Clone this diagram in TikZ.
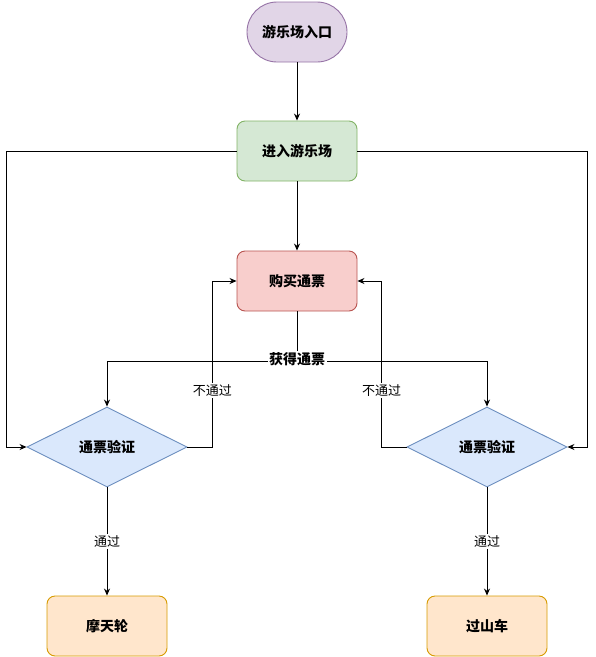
\documentclass[tikz,border=0pt]{standalone}
\usepackage{fontspec}
\setmainfont{Noto Sans CJK SC}
\usepackage{tikz}
\usetikzlibrary{
    arrows.meta,
    positioning,
    shapes.geometric
}
\usepackage{xcolor}
\definecolor{startfill}{HTML}{E1D5E7}
\definecolor{startline}{HTML}{9673A6}
\definecolor{greenfill}{HTML}{D5E8D4}
\definecolor{greenline}{HTML}{82B366}
\definecolor{redfill}{HTML}{F8CECC}
\definecolor{redline}{HTML}{B85450}
\definecolor{bluefill}{HTML}{DAE8FC}
\definecolor{blueline}{HTML}{6C8EBF}
\definecolor{orangefill}{HTML}{FFE6CC}
\definecolor{orangeline}{HTML}{D79B00}

\begin{document}
\begin{tikzpicture}[
        x=1pt, y=-1pt,
        >={Stealth[length=7pt,width=6pt]},
        line width=0.9pt,
        term/.style={
            rectangle,
            rounded corners=30pt,
            draw=startline,
            fill=startfill,
            minimum width=100pt,
            minimum height=60pt,
            font=\fontsize{14}{16}\selectfont\bfseries
        },
        box/.style={
            rectangle,
            rounded corners=8pt,
            draw=#1line,
            fill=#1fill,
            minimum width=120pt,
            minimum height=60pt,
            font=\fontsize{14}{16}\selectfont\bfseries
        },
        check/.style={
            diamond,
            aspect=2,
            inner sep=0pt,
            draw=blueline,
            fill=bluefill,
            minimum width=160pt,
            minimum height=80pt,
            font=\fontsize{14}{16}\selectfont\bfseries
        },
        lbl/.style={
            fill=white,
            inner sep=1.5pt,
            font=\fontsize{13}{15}\selectfont
        }
    ]
    \useasboundingbox (0,0) rectangle (596,657);

    \node[term] (S) at (297,32) {游乐场入口};
    \node[box=green] (E) at (297,151) {进入游乐场};
    \node[box=red] (B) at (297,281) {购买通票};
    \node[check] (C1) at (107,447) {通票验证};
    \node[check] (C2) at (487,447) {通票验证};
    \node[box=orange] (R1) at (107,626) {摩天轮};
    \node[box=orange] (R2) at (487,626) {过山车};
    \coordinate (split) at (297,361);

    \draw[->] (S) -- (E);
    \draw[->] (E) -- (B);
    \draw[->] (E.west) -- ++(-230,0) |- (C1.west);
    \draw[->] (E.east) -- ++(230,0) |- (C2.east);

    \draw (B) -- (split);
    \draw[->] (split) -| (C1);
    \draw[->] (split) -| (C2);
    \node[lbl, font=\fontsize{14}{16}\selectfont\bfseries]
        at ([yshift=2pt]split) {获得通票};

    \draw[->] (C1.east) -- ++(25,0) |- (B.west)
        node[lbl, pos=0.17] {不通过};
    \draw[->] (C2.west) -- ++(-25,0) |- (B.east)
        node[lbl, pos=0.17] {不通过};

    \draw[->] (C1) -- (R1) node[lbl, midway] {通过};
    \draw[->] (C2) -- (R2) node[lbl, midway] {通过};

\end{tikzpicture}
\end{document}
